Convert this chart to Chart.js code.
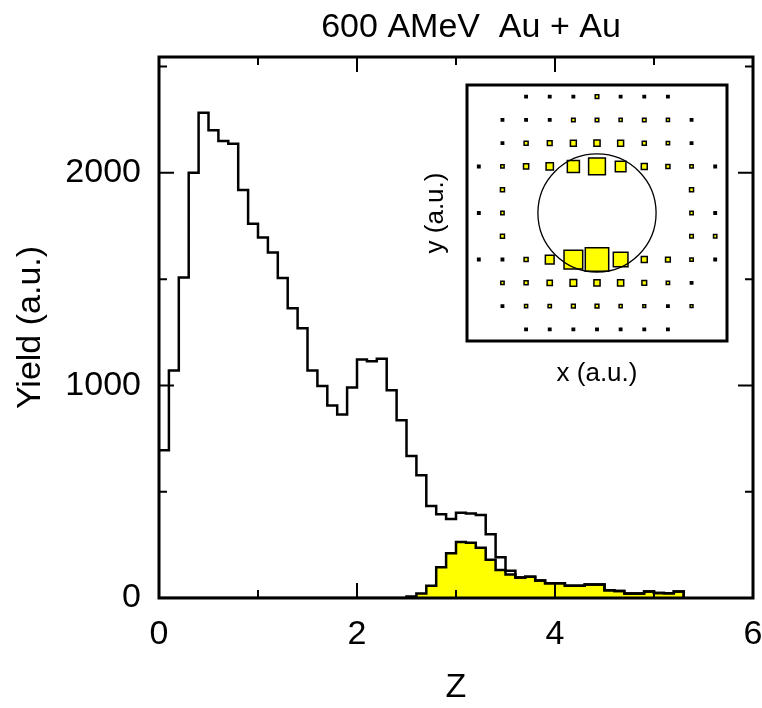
<!DOCTYPE html>
<html>
<head>
<meta charset="utf-8">
<script src="https://cdn.jsdelivr.net/npm/chart.js@4.4.1/dist/chart.umd.min.js"></script>
<style>
  body { margin: 0; background: #fff; }
  #wrap { position: relative; width: 762px; height: 708px; }
  #histo { position: absolute; left: 0; top: 0; }
  #inset { position: absolute; left: 420px; top: 80px; }
</style>
</head>
<body>
<div id="wrap">
  <canvas id="histo" width="762" height="708"></canvas>
  <canvas id="inset" width="320" height="310"></canvas>
</div>
<script>
// histogram, bins of 0.1 starting at Z = 0
const binWidth = 0.1
const totalYield = [
  695, 1070, 1508, 2001, 2283, 2200, 2150, 2137, 1919, 1760,
  1696, 1625, 1505, 1363, 1269, 1070, 997, 905, 863, 990,
  1122, 1114, 1126, 977, 836, 668, 577, 433, 394, 372,
  401, 398, 391, 300, 192, 128, 97, 100, 82, 69,
  69, 58, 58, 64, 63, 36, 33, 21, 21, 30,
  23, 22, 30
]
const gatedYield = [
  0, 0, 0, 0, 0, 0, 0, 0, 0, 0,
  0, 0, 0, 0, 0, 0, 0, 0, 0, 0,
  0, 0, 0, 0, 0, 7, 21, 58, 145, 211,
  263, 260, 236, 180, 132, 110, 97, 100, 82, 69,
  69, 58, 58, 64, 63, 36, 33, 21, 21, 30,
  23, 22, 30
]
const xTicks = [0, 2, 4, 6]
const xMinor = [1, 3, 5]
const yTicks = [0, 1000, 2000]
const yMinor = [500, 1500, 2500]

// inset: square sizes (in x units) on the grid, first row is y = 5
const gridX = [-5, -4, -3, -2, -1, 0, 1, 2, 3, 4, 5]
const gridY = [5, 4, 3, 2, 1, 0, -1, -2, -3, -4, -5]
const boxSize = [
  [0, 0, .1, .1, .1, .15, .1, .1, .1, 0, 0],
  [0, .1, .1, .1, .15, .15, .13, .15, .13, .1, 0],
  [0, .1, .17, .2, .25, .26, .25, .17, .14, .1, 0],
  [.1, .14, .22, .31, .51, .71, .45, .25, .17, .14, .1],
  [0, .17, 0, 0, 0, 0, 0, 0, 0, .17, 0],
  [.1, .14, 0, 0, 0, 0, 0, 0, 0, .14, .1],
  [0, .17, 0, 0, 0, 0, 0, 0, 0, .15, .14],
  [.1, .1, .17, .37, .79, .99, .62, .25, .2, .14, .1],
  [0, .14, .17, .22, .28, .26, .26, .2, .14, .1, 0],
  [0, .1, .13, .14, .16, .16, .13, .12, .1, .12, 0],
  [0, 0, .1, .1, .1, .1, .1, .1, .1, 0, 0]
]
const ringRadius = 2.5

const fontFam = "'Liberation Sans', Arial, sans-serif"
Chart.defaults.font.family = fontFam
Chart.defaults.color = '#000'
Chart.defaults.animation = false

function steps(vals) {
    const pts = vals.map((v, i) => ({ x: i * binWidth, y: v }))
    pts.push({ x: vals.length * binWidth, y: 0 })
    return pts
}

// frame + inward ticks like the original plot
const frameTicks = {
    id: 'frameTicks',
    afterDatasetsDraw(chart) {
        const { ctx, chartArea: a, scales: { x, y } } = chart
        ctx.save()
        ctx.strokeStyle = '#000'
        ctx.lineWidth = 2
        ctx.beginPath()
        const xt = (vals, len) => vals.forEach(v => {
            const p = x.getPixelForValue(v)
            ctx.moveTo(p, a.bottom); ctx.lineTo(p, a.bottom - len)
            ctx.moveTo(p, a.top); ctx.lineTo(p, a.top + len)
        })
        const yt = (vals, len) => vals.forEach(v => {
            const p = y.getPixelForValue(v)
            ctx.moveTo(a.left, p); ctx.lineTo(a.left + len, p)
            ctx.moveTo(a.right, p); ctx.lineTo(a.right - len, p)
        })
        xt(xTicks, 15); xt(xMinor, 8)
        yt(yTicks, 15); yt(yMinor, 8)
        ctx.stroke()
        ctx.lineWidth = 3
        ctx.strokeRect(a.left, a.top, a.right - a.left, a.bottom - a.top)
        ctx.font = '34px ' + fontFam
        ctx.fillStyle = '#000'
        ctx.textAlign = 'center'
        ctx.textBaseline = 'middle'
        ctx.fillText('600 AMeV  Au + Au', 471, 28)
        ctx.restore()
    }
}

new Chart(document.getElementById('histo'), {
    type: 'line',
    data: {
        datasets: [
            {
                label: 'all',
                data: steps(totalYield),
                stepped: 'before',
                borderColor: '#000',
                borderWidth: 2.5,
                pointRadius: 0,
                fill: false
            },
            {
                label: 'gated',
                data: steps(gatedYield),
                stepped: 'before',
                borderColor: '#000',
                borderWidth: 2.5,
                pointRadius: 0,
                backgroundColor: '#ffff00',
                fill: 'origin'
            }
        ]
    },
    options: {
        responsive: false,
        events: [],
        layout: { padding: { left: 0, right: 9, top: 57, bottom: 0 } },
        plugins: { legend: { display: false }, tooltip: { enabled: false } },
        scales: {
            x: {
                type: 'linear',
                min: 0,
                max: 6,
                grid: { display: false },
                border: { display: false },
                afterBuildTicks: s => { s.ticks = xTicks.map(v => ({ value: v })) },
                afterFit: s => { s.height = 110; s.paddingLeft = 0; s.paddingRight = 0 },
                ticks: { font: { size: 34 }, padding: 8, maxRotation: 0, autoSkip: false, callback: v => String(v) },
                title: { display: true, text: 'Z', font: { size: 34 }, padding: { top: 0, bottom: 0 } }
            },
            y: {
                min: 0,
                max: 2545,
                grid: { display: false },
                border: { display: false },
                afterBuildTicks: s => { s.ticks = yTicks.map(v => ({ value: v })) },
                afterFit: s => { s.width = 159; s.paddingTop = 0; s.paddingBottom = 0 },
                ticks: { font: { size: 34 }, padding: 10, callback: v => String(v) },
                title: { display: true, text: 'Yield (a.u.)', font: { size: 34 }, padding: { top: 10, bottom: 0 } }
            }
        }
    },
    plugins: [frameTicks]
})

// inset
const boxes = []
gridY.forEach((gy, r) => {
    gridX.forEach((gx, c) => {
        if (boxSize[r][c] > 0) boxes.push({ x: gx, y: gy, s: boxSize[r][c] })
    })
})

const insetDeco = {
    id: 'insetDeco',
    beforeDatasetsDraw(chart) {
        const { ctx, chartArea: a } = chart
        ctx.save()
        ctx.fillStyle = '#fff'
        ctx.fillRect(a.left, a.top, a.right - a.left, a.bottom - a.top)
        ctx.restore()
    },
    afterDatasetsDraw(chart) {
        const { ctx, chartArea: a, scales: { x, y } } = chart
        ctx.save()
        ctx.strokeStyle = '#000'
        ctx.lineWidth = 1.3
        const cx = x.getPixelForValue(0), cy = y.getPixelForValue(0)
        const r = x.getPixelForValue(ringRadius) - cx
        ctx.beginPath()
        ctx.arc(cx, cy, r, 0, Math.PI * 2)
        ctx.stroke()
        ctx.lineWidth = 3
        ctx.strokeRect(a.left, a.top, a.right - a.left, a.bottom - a.top)
        ctx.restore()
    }
}

new Chart(document.getElementById('inset'), {
    type: 'scatter',
    data: {
        datasets: [{
            data: boxes,
            pointStyle: 'rect',
            backgroundColor: c => c.raw && c.raw.s <= 0.1 ? '#000' : '#ffff00',
            borderColor: '#000',
            borderWidth: 1.5,
            pointRadius: c => {
                const sx = c.chart.scales.x
                const unit = sx.getPixelForValue(1) - sx.getPixelForValue(0)
                return c.raw.s * unit / Math.SQRT2
            }
        }]
    },
    options: {
        responsive: false,
        events: [],
        layout: { padding: { left: 0, right: 13, top: 5, bottom: 0 } },
        plugins: { legend: { display: false }, tooltip: { enabled: false } },
        scales: {
            x: {
                min: -5.5, max: 5.5,
                grid: { display: false },
                border: { display: false },
                ticks: { display: false },
                afterFit: s => { s.height = 49; s.paddingLeft = 0; s.paddingRight = 0 },
                title: { display: true, text: 'x (a.u.)', font: { size: 26 }, padding: { top: 0, bottom: 1 } }
            },
            y: {
                min: -5.5, max: 5.5,
                grid: { display: false },
                border: { display: false },
                ticks: { display: false },
                afterFit: s => { s.width = 47; s.paddingTop = 0; s.paddingBottom = 0 },
                title: { display: true, text: 'y (a.u.)', font: { size: 26 }, padding: { top: 0, bottom: 0 } }
            }
        }
    },
    plugins: [insetDeco]
})
</script>
</body>
</html>
